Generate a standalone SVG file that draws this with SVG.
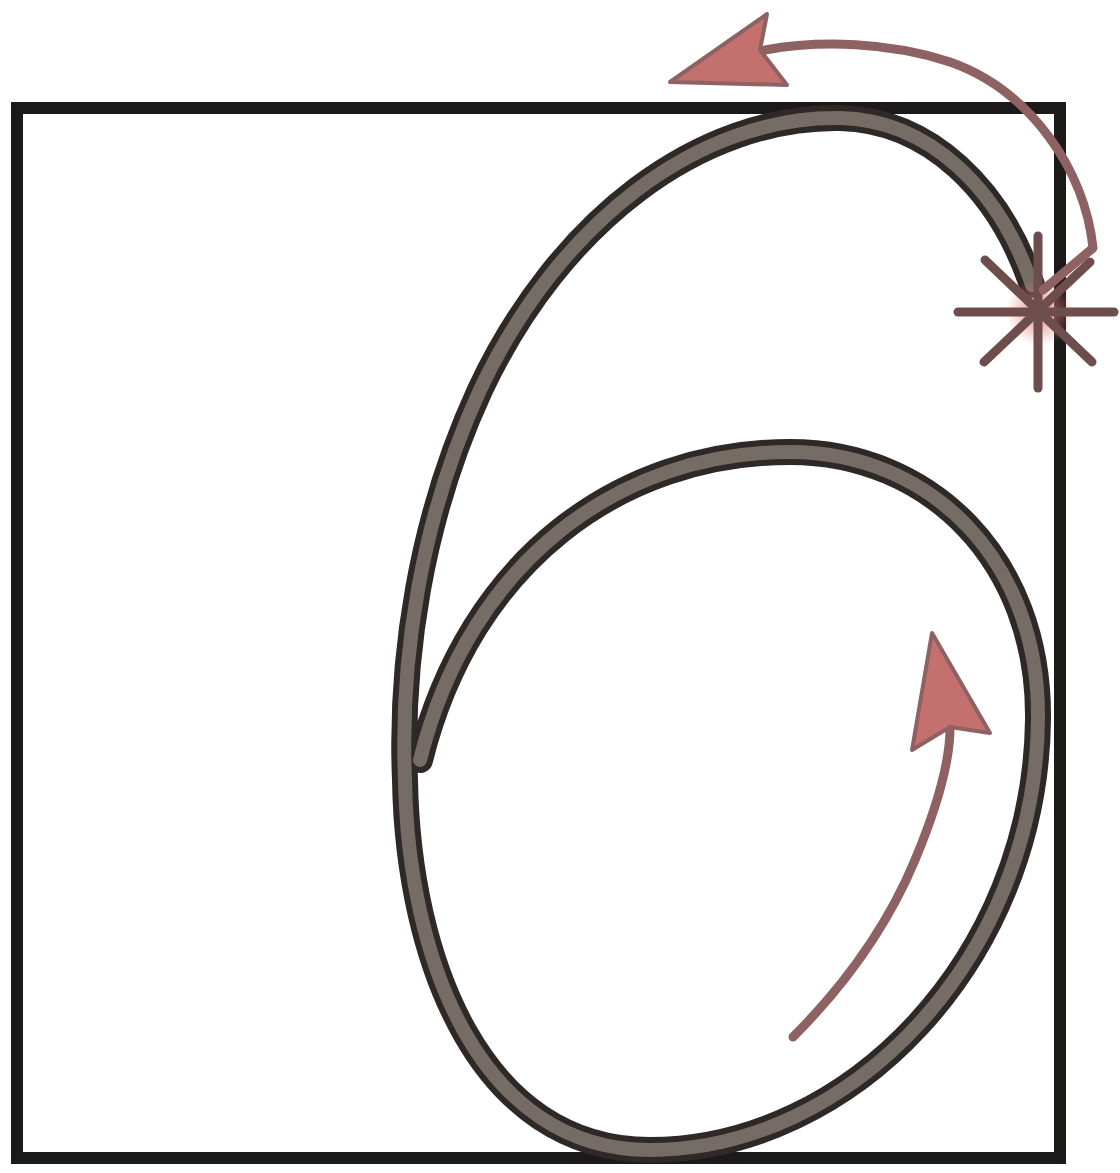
<svg xmlns="http://www.w3.org/2000/svg" width="1120" height="1173" viewBox="0 0 1120 1173">
<style>
.box{fill:none;stroke:#1c1a19;stroke-width:12}
.six-edge{fill:none;stroke:#2e2826;stroke-width:26;stroke-linecap:round;stroke-linejoin:round}
.six-core{fill:none;stroke:#766c66;stroke-width:14;stroke-linecap:round;stroke-linejoin:round}
.red-line{fill:none;stroke:#8e6262;stroke-width:9;stroke-linecap:round;stroke-linejoin:round}
.red-head{fill:#c4706e;stroke:#8e6262;stroke-width:4;stroke-linejoin:round}
.star{stroke:#6e4e4c;stroke-width:9;stroke-linecap:round}
</style>
<defs>
<radialGradient id="glow">
<stop offset="0" stop-color="#e07a7a" stop-opacity="0.9"/>
<stop offset="1" stop-color="#e07a7a" stop-opacity="0"/>
</radialGradient>
</defs>
<rect width="1120" height="1173" fill="#ffffff"/>
<g id="frame">
<rect class="box" x="17" y="108" width="1043" height="1050"/>
</g>
<g id="digit-six">
<path id="six-path" class="six-edge" d="M 1032,285 C 1000,190 930,120 840,118 C 700,116 560,220 480,390 C 420,520 400,660 405,780 C 408,960 480,1150 650,1150 C 850,1150 1035,960 1038,720 C 1040,560 930,452 790,452 C 620,452 470,560 420,760"/>
<path class="six-core" d="M 1032,285 C 1000,190 930,120 840,118 C 700,116 560,220 480,390 C 420,520 400,660 405,780 C 408,960 480,1150 650,1150 C 850,1150 1035,960 1038,720 C 1040,560 930,452 790,452 C 620,452 470,560 420,760"/>
</g>
<g id="start-star">
<circle cx="1040" cy="312" r="34" fill="url(#glow)"/>
<line class="star" x1="958" y1="312" x2="1114" y2="312"/>
<line class="star" x1="1038" y1="236" x2="1038" y2="388"/>
<line class="star" x1="985" y1="260" x2="1092" y2="362"/>
<line class="star" x1="984" y1="362" x2="1090" y2="262"/>
</g>
<g id="connectors">
<g id="arrow-top">
<path class="red-line" d="M 1043,290 L 1093,248 C 1085,170 1030,90 950,62 C 890,42 820,40 765,50"/>
<path class="red-head" d="M 670,82 L 767,14 L 760,50 L 787,85 Z"/>
</g>
<g id="arrow-inner">
<path class="red-line" d="M 793,1037 C 850,980 890,920 915,860 C 940,800 950,760 950,728"/>
<path class="red-head" d="M 932,633 L 990,733 L 950,727 L 912,750 Z"/>
</g>
</g>
</svg>
